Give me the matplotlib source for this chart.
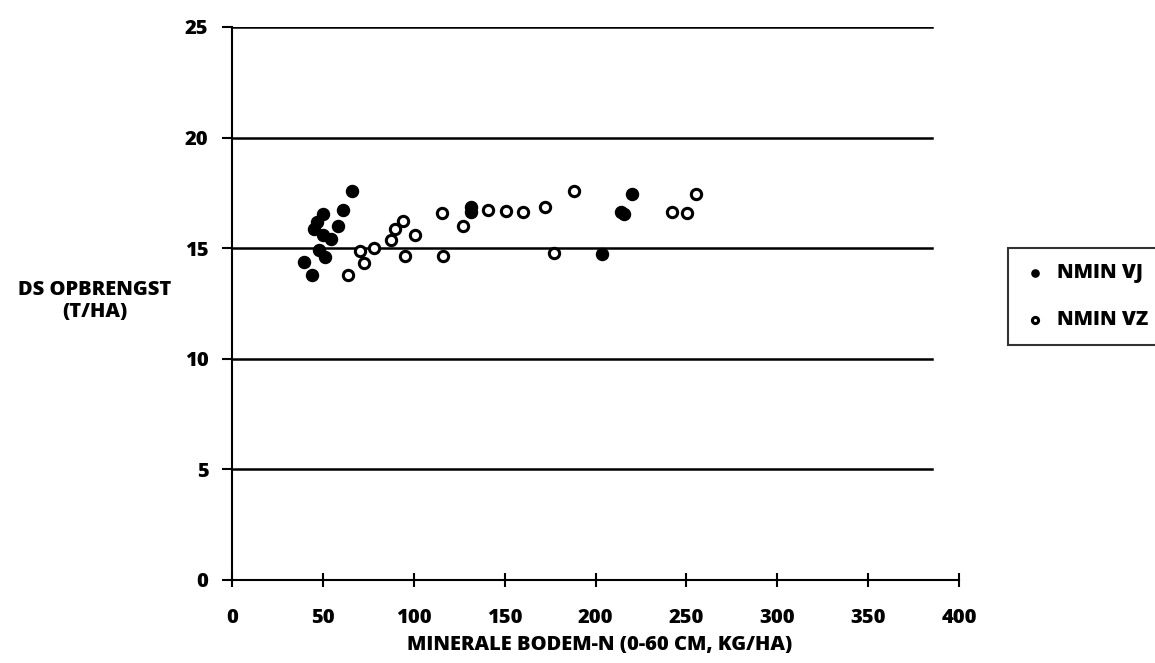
import matplotlib.pyplot as plt
import numpy as np

fontsize = 14.5

# NMIN VJ (filled)
vj_x = [66.2, 61.3, 49.9, 46.9, 45.3, 50.2, 54.3, 58.1, 48.0, 51.2, 39.6, 43.8,
        131.3, 131.3, 203.4, 219.9, 214.0, 215.5]
vj_y = [17.59, 16.72, 16.54, 16.19, 15.89, 15.59, 15.41, 16.0, 14.91, 14.61, 14.38, 13.78,
        16.88, 16.62, 14.73, 17.43, 16.65, 16.55]

# NMIN VZ (open)
vz_x = [70.4, 72.6, 63.6, 78.3, 87.5, 89.7, 93.9, 100.7, 95.4, 115.4, 126.9, 116.3,
        140.7, 150.8, 160.3, 172.2, 188.4, 177.2, 242.3, 250.2, 255.3]
vz_y = [14.87, 14.35, 13.81, 14.99, 15.39, 15.89, 16.24, 15.59, 14.64, 16.57, 16.0, 14.66,
        16.72, 16.67, 16.62, 16.87, 17.58, 14.76, 16.64, 16.57, 17.43]

x_ticks = [0, 50, 100, 150, 200, 250, 300, 350, 400]
y_ticks = [0, 5, 10, 15, 20, 25]

plt.rcParams['font.family'] = ['Open Sans', 'DejaVu Sans']
plt.rcParams['font.weight'] = 'heavy'

fig = plt.figure(figsize=(11.55, 6.63), dpi=100)
ax = fig.add_axes([0.2009, 0.1252, 0.6294, 0.8341])

# gridlines stop short of the end of the x axis
for y in y_ticks[1:]:
    ax.plot([0, 385], [y, y], color="black", linewidth=1.8, zorder=1)

ax.scatter(vj_x, vj_y, s=75, color="black", edgecolor="black", zorder=3, label="NMIN VJ")
ax.scatter(vz_x, vz_y, s=55, color="white", edgecolor="black", linewidth=2.2, zorder=3,
           label="NMIN VZ")

ax.set_xlim(0, 400)
ax.set_ylim(0, 25)
ax.set_xticks(x_ticks)
ax.set_yticks(y_ticks)
ax.tick_params(axis="x", direction="inout", length=10, width=1.5, pad=15, labelsize=fontsize)
ax.tick_params(axis="y", direction="out", length=7, width=1.5, pad=10, labelsize=fontsize)
for lbl in ax.get_xticklabels() + ax.get_yticklabels():
    lbl.set_fontweight("heavy")

ax.spines["top"].set_visible(False)
ax.spines["right"].set_visible(False)
ax.spines["left"].set_linewidth(1.5)
ax.spines["bottom"].set_linewidth(1.5)

fig.text(95 / 1155, 1 - 301 / 663, "DS OPBRENGST\n(T/HA)", ha="center", va="center",
         size=fontsize, fontweight="heavy", linespacing=1.1)
fig.text(600 / 1155, 1 - 645 / 663, "MINERALE BODEM-N (0-60 CM, KG/HA)", ha="center",
         va="center", size=fontsize, fontweight="heavy")

leg = fig.legend(loc="upper left", bbox_to_anchor=(1008 / 1155, 1 - 248 / 663, 0.2, 0.0),
                 mode="expand", frameon=True, fancybox=False, edgecolor="black",
                 borderaxespad=0.0, markerscale=0.6, handlelength=1.2, handletextpad=0.5,
                 labelspacing=1.35, borderpad=0.75,
                 prop={"size": fontsize, "weight": "heavy"})
leg.get_frame().set_linewidth(1.5)

fig.savefig("out.png", dpi=100)
